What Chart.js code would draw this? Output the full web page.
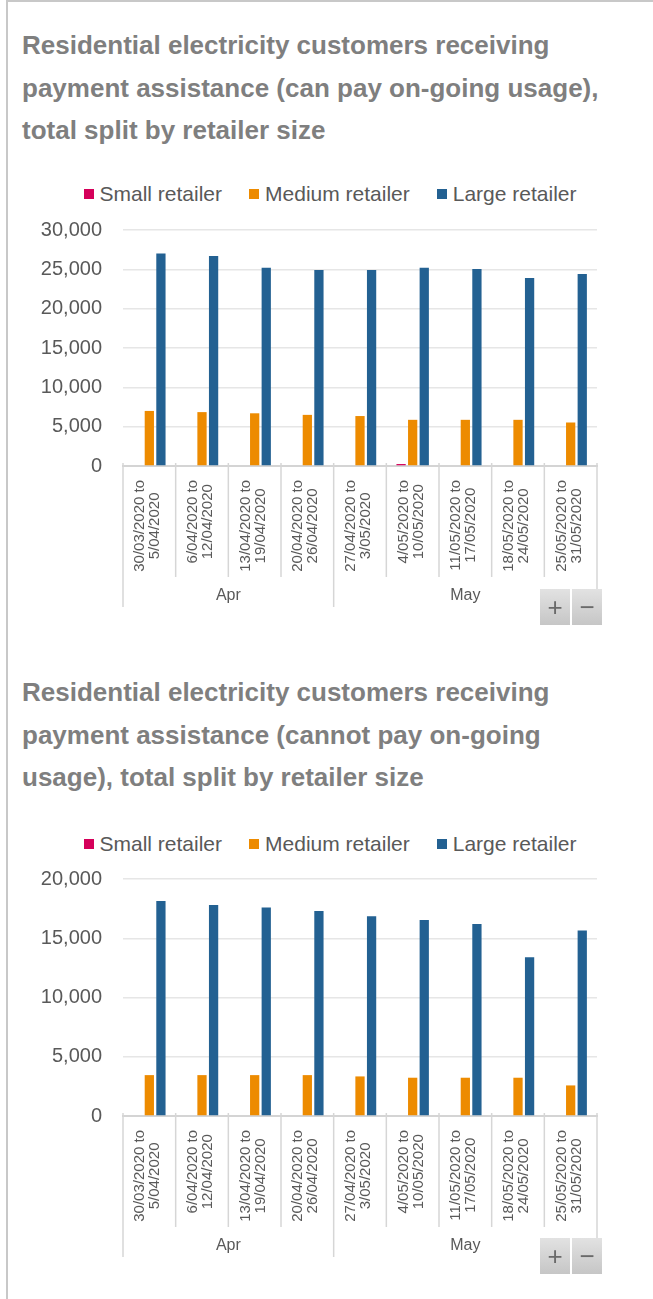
<!DOCTYPE html>
<html><head><meta charset="utf-8">
<script src="https://cdn.jsdelivr.net/npm/chart.js@4.4.1/dist/chart.umd.min.js"></script>
<style>
html,body{margin:0;padding:0;background:#fff;width:653px;height:1299px;overflow:hidden;font-family:"Liberation Sans",Arial,sans-serif;}
#frame{position:absolute;left:6px;top:0;width:660px;height:1299px;border-left:2px solid #c8c8c8;border-top:2px solid #c8c8c8;box-sizing:border-box;}
.title{position:absolute;left:22px;font-weight:bold;font-size:26px;line-height:42.5px;color:#7f7f7f;white-space:nowrap;}
.legend{position:absolute;left:0;width:660px;height:24px;display:flex;justify-content:center;align-items:center;font-size:21px;color:#595959;white-space:nowrap;}
.legend .item{display:flex;align-items:center;margin:0 13.5px;}
.legend .sw{width:10px;height:10px;margin-right:6px;}
.chartbox{position:absolute;left:0;}
.btns{position:absolute;left:540px;display:flex;}
.btn{width:30px;height:36px;margin-right:2px;background:linear-gradient(#e2e2e2,#c6c6c6);color:#6a6a6a;font-size:26px;line-height:36px;text-align:center;}
</style></head>
<body>
<div id="frame"></div>
<div class="title" style="top:24px">Residential electricity customers receiving<br>payment assistance (can pay on-going usage),<br>total split by retailer size</div>
<div class="legend" id="legend1" style="top:182px"></div>
<div class="chartbox" style="top:197px"><canvas id="c1" width="653" height="433"></canvas></div>
<div class="btns" style="top:589px"><div class="btn">+</div><div class="btn">&minus;</div></div>

<div class="title" style="top:671px">Residential electricity customers receiving<br>payment assistance (cannot pay on-going<br>usage), total split by retailer size</div>
<div class="legend" id="legend2" style="top:832px"></div>
<div class="chartbox" style="top:846px"><canvas id="c2" width="653" height="434"></canvas></div>
<div class="btns" style="top:1238px"><div class="btn">+</div><div class="btn">&minus;</div></div>

<script>
// ---- data ----
const categories = [
  ["30/03/2020 to","5/04/2020"],
  ["6/04/2020 to","12/04/2020"],
  ["13/04/2020 to","19/04/2020"],
  ["20/04/2020 to","26/04/2020"],
  ["27/04/2020 to","3/05/2020"],
  ["4/05/2020 to","10/05/2020"],
  ["11/05/2020 to","17/05/2020"],
  ["18/05/2020 to","24/05/2020"],
  ["25/05/2020 to","31/05/2020"]
];
const monthLabels = ["Apr","May"];
const monthSpans = [4,5];
const seriesNames = ["Small retailer","Medium retailer","Large retailer"];
const seriesColors = ["#d5005a","#ed8b00","#236192"];

const smallCanPay  = [0,0,0,0,0,250,0,0,0];
const mediumCanPay = [7000,6850,6700,6500,6350,5870,5870,5870,5530];
const largeCanPay  = [27000,26700,25200,24900,24900,25200,25050,23900,24400];
const yTicksCanPay = [0,5000,10000,15000,20000,25000,30000];

const smallCannotPay  = [0,0,0,0,0,0,0,0,0];
const mediumCannotPay = [3450,3450,3450,3450,3340,3230,3230,3230,2580];
const largeCannotPay  = [18150,17800,17600,17300,16860,16550,16200,13400,15650];
const yTicksCannotPay = [0,5000,10000,15000,20000];

const FONT = '"Liberation Sans", Arial, sans-serif';

function buildLegend(id){
  const el = document.getElementById(id);
  seriesNames.forEach((n,i)=>{
    const it = document.createElement('div'); it.className='item';
    const sw = document.createElement('span'); sw.className='sw'; sw.style.background=seriesColors[i];
    const tx = document.createElement('span'); tx.textContent=n;
    it.appendChild(sw); it.appendChild(tx); el.appendChild(it);
  });
}
buildLegend('legend1'); buildLegend('legend2');

const xLabelPlugin = {
  id:'xlabels',
  afterDraw(chart){
    const xs = chart.scales.x, ctx = chart.ctx;
    const axisY = xs.top;
    ctx.save();
    // separators
    const bounds = new Set([0]); let acc = 0;
    monthSpans.forEach(s=>{acc+=s; bounds.add(acc);});
    ctx.strokeStyle = '#d6d6d6'; ctx.lineWidth = 1.5;
    for (let i=0;i<=categories.length;i++){
      const x = xs.getPixelForValue(i-0.5);
      const len = bounds.has(i) ? 141 : 111;
      ctx.beginPath(); ctx.moveTo(x, axisY-3); ctx.lineTo(x, axisY+len); ctx.stroke();
    }
    // category labels (rotated, centered lines)
    ctx.font = '15px ' + FONT;
    ctx.fillStyle = '#595959';
    ctx.textAlign = 'center'; ctx.textBaseline = 'middle';
    categories.forEach((lines,i)=>{
      const cx = xs.getPixelForValue(i);
      const w = Math.max(...lines.map(l=>ctx.measureText(l).width));
      const cy = axisY + 14 + w/2;
      lines.forEach((l,j)=>{
        ctx.save();
        ctx.translate(cx - 1.5 + (j-(lines.length-1)/2)*15, cy);
        ctx.rotate(-Math.PI/2);
        ctx.fillText(l,0,0);
        ctx.restore();
      });
    });
    // month group labels
    ctx.font = '16px ' + FONT;
    let start = 0;
    monthLabels.forEach((m,k)=>{
      const a = xs.getPixelForValue(start-0.5);
      const b = xs.getPixelForValue(start+monthSpans[k]-0.5);
      ctx.fillText(m,(a+b)/2, axisY+130);
      start += monthSpans[k];
    });
    ctx.restore();
  }
};

function makeChart(id, small, medium, large, yTicks){
  const ds = [small, medium, large].map((d,i)=>({
    label: seriesNames[i], data: d, backgroundColor: seriesColors[i],
    borderWidth: 0, barPercentage: 0.8, categoryPercentage: 0.66
  }));
  return new Chart(document.getElementById(id), {
    type:'bar',
    data:{ labels: categories.map(c=>c.join(' ')), datasets: ds },
    options:{
      responsive:false, animation:false, devicePixelRatio:1,
      layout:{ padding:{ top:0, right:56, left:0, bottom:0 } },
      plugins:{ legend:{display:false}, tooltip:{enabled:false} },
      scales:{
        x:{
          offset:true,
          ticks:{display:false},
          grid:{display:true, drawOnChartArea:false, drawTicks:false},
          border:{display:true, color:'#d4d4d4', width:2},
          afterFit:(s)=>{ s.height = 164; }
        },
        y:{
          min: yTicks[0], max: yTicks[yTicks.length-1],
          afterBuildTicks:(s)=>{ s.ticks = yTicks.map(v=>({value:v})); },
          ticks:{ padding:21, color:'#595959', font:{size:20, family:FONT},
                  callback:(v)=>Number(v).toLocaleString('en-US') },
          grid:{ color:'#e6e6e6', lineWidth:1.5, drawTicks:false },
          border:{ display:false },
          afterFit:(s)=>{ s.width = 123; }
        }
      }
    },
    plugins:[xLabelPlugin]
  });
}
makeChart('c1', smallCanPay, mediumCanPay, largeCanPay, yTicksCanPay);
makeChart('c2', smallCannotPay, mediumCannotPay, largeCannotPay, yTicksCannotPay);
</script>
</body></html>
